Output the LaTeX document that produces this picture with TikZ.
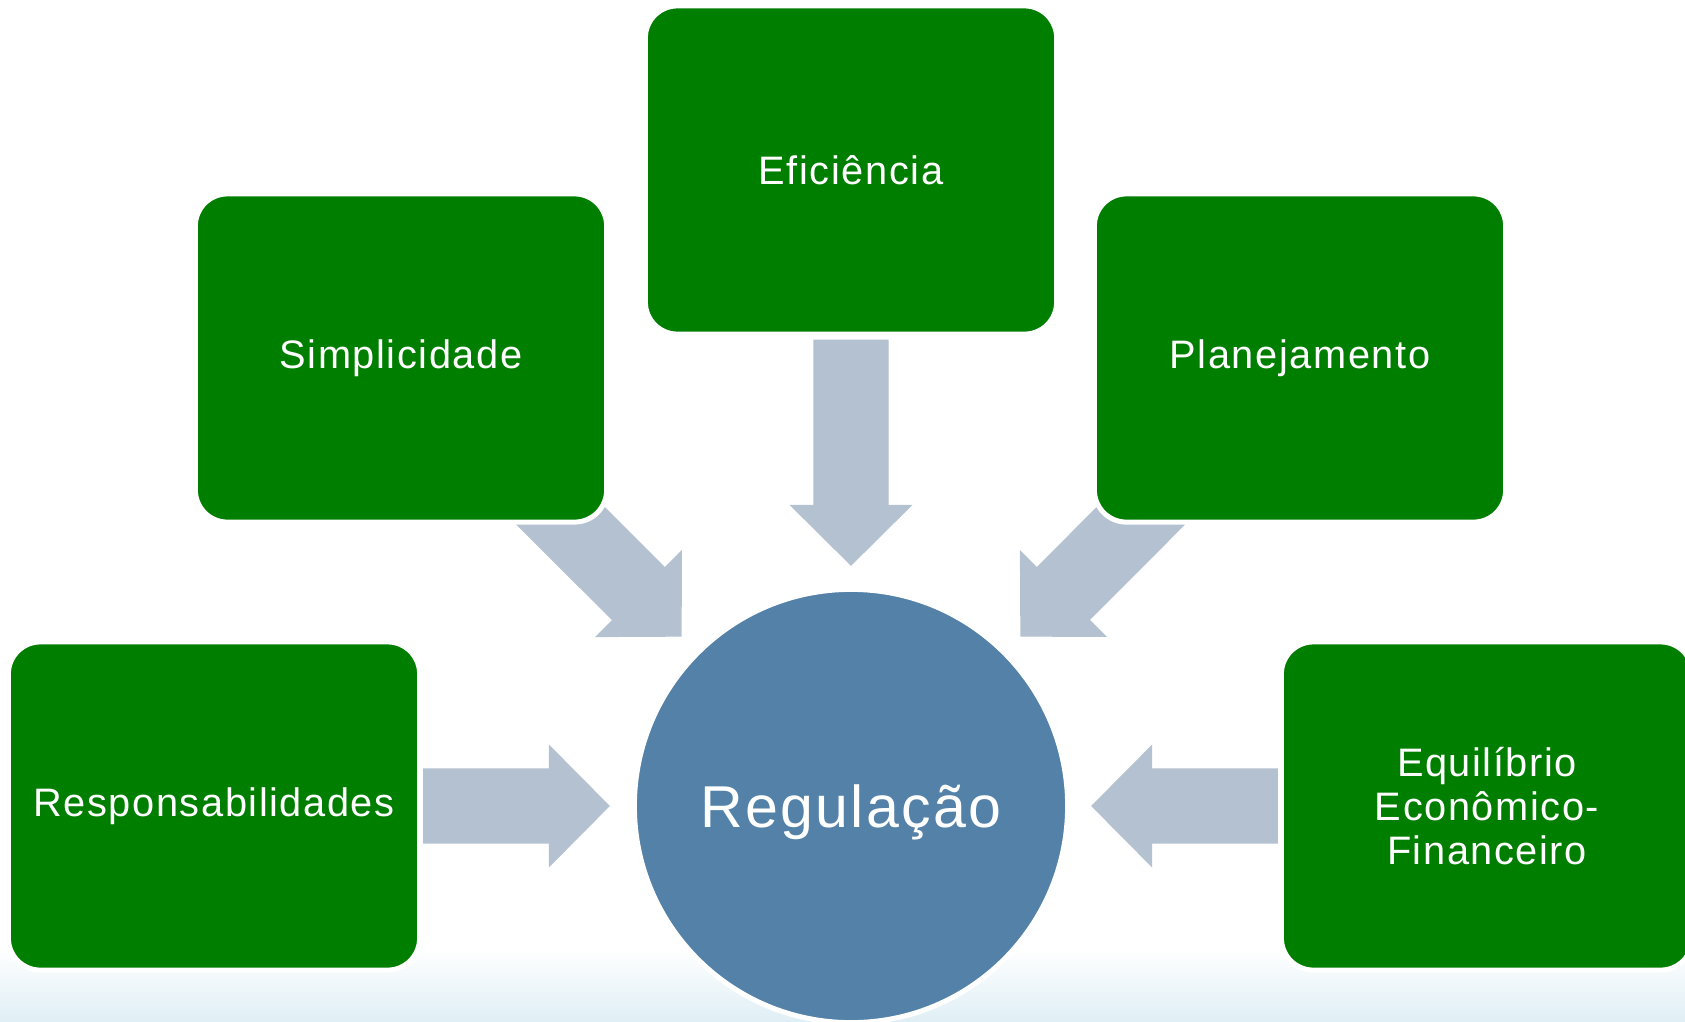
\documentclass[tikz,border=0pt]{standalone}
\usepackage{fontspec}
\setmainfont{Liberation Sans}[LetterSpace=4]
\usepackage{tikz}
\usetikzlibrary{calc}
\definecolor{boxgreen}{RGB}{0,126,0}
\definecolor{regblue}{RGB}{83,129,168}
\definecolor{arrowgray}{RGB}{179,193,209}
\definecolor{floorblue}{RGB}{224,239,245}
\pgfdeclarelayer{background}
\pgfsetlayers{background,main}

\begin{document}
\begin{tikzpicture}[x=0.01cm,y=-0.01cm,
  box/.style={rectangle,rounded corners=0.32cm,fill=boxgreen,draw=white,line width=0.05cm,
    minimum width=4.11cm,minimum height=3.28cm,text=white,align=center,
    font=\fontsize{11.3}{12.4}\selectfont},
  hub/.style={circle,fill=regblue,draw=white,line width=0.05cm,minimum size=4.33cm,
    inner sep=0pt,text=white,text depth=0pt,font=\fontsize{16.8}{20}\selectfont},
  blockarrow/.style={fill=arrowgray}]
  \useasboundingbox (0,0) rectangle (1685,1021);
  \node[hub] (reg) at (851,806) {Regulação};
  \foreach \nm/\x/\y/\lab in {efic/851/170/{Eficiência},simp/401/358/{Simplicidade},
      plan/1300/358/{Planejamento},resp/214/806/{Responsabilidades},
      equi/1487/806/{Equilíbrio\\Econômico-\\Financeiro}}{
    \node[box] (\nm) at (\x,\y) {\lab};
  }
  % tails and tips of the block arrows
  \coordinate (t1) at ($(efic.south)+(0,3)$);         \coordinate (p1) at ($(reg.north)+(0,-21)$);
  \coordinate (t2) at ($(simp.south east)+(-117,-77)$); \coordinate (p2) at ($(reg.135)+(-14.4,-14.4)$);
  \coordinate (t3) at ($(plan.south west)+(117,-77)$);  \coordinate (p3) at ($(reg.45)+(14.4,-14.4)$);
  \coordinate (t4) at ($(resp.east)+(1,0)$);          \coordinate (p4) at ($(reg.west)+(-22,0)$);
  \coordinate (t5) at ($(equi.west)+(-1,0)$);         \coordinate (p5) at ($(reg.east)+(21,0)$);
  \begin{pgfonlayer}{background}
    \fill[top color=white,bottom color=floorblue] (0,948) rectangle (1685,1021);
    \foreach \a/\b in {t1/p1,t2/p2,t3/p3,t4/p4,t5/p5}{
      \coordinate (hd) at ($(\b)!0.61cm!(\a)$);
      \fill[blockarrow] ($(\a)!0.375cm!90:(\b)$) -- ($(hd)!0.375cm!-90:(\a)$) -- ($(hd)!0.615cm!-90:(\a)$)
        -- (\b) -- ($(hd)!0.615cm!90:(\a)$) -- ($(hd)!0.375cm!90:(\a)$) -- ($(\a)!0.375cm!-90:(\b)$) -- cycle;
    }
  \end{pgfonlayer}
\end{tikzpicture}
\end{document}
